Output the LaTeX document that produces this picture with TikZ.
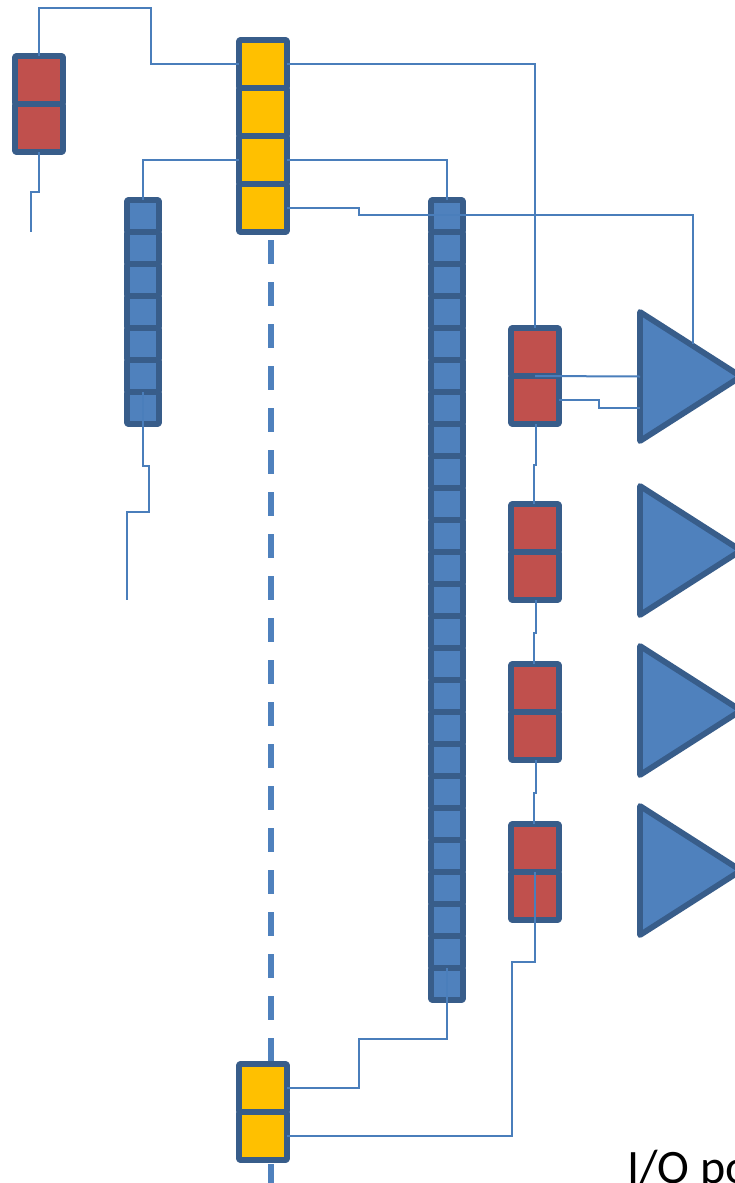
\documentclass[tikz,border=0pt]{standalone}
\usepackage{fontspec}
\setmainfont{Carlito}
\usetikzlibrary{shapes.geometric}
\definecolor{edgeblue}{HTML}{385D8A}
\definecolor{fillblue}{HTML}{4F81BD}
\definecolor{fillred}{HTML}{C0504D}
\definecolor{fillyellow}{HTML}{FFC000}
\definecolor{wire}{HTML}{4A7EBB}
\tikzset{
  cell/.style={draw=edgeblue,line width=5.8pt,rounded corners=1pt,line join=round,outer sep=0pt,inner sep=0pt,minimum width=48pt,minimum height=48pt},
  redcell/.style={cell,fill=fillred},
  yellowcell/.style={cell,fill=fillyellow},
  bluecell/.style={cell,fill=fillblue,minimum width=32pt,minimum height=32pt},
  amp/.style={draw=edgeblue,fill=fillblue,line width=5.8pt,line join=round,outer sep=0pt,inner sep=0pt,
    isosceles triangle,isosceles triangle stretches,minimum width=129pt,minimum height=101pt,anchor=lower side},
  conn/.style={draw=wire,line width=2pt,line join=miter},
  bus/.style={draw=fillblue,line width=6pt,dash pattern=on 24pt off 18pt},
  label/.style={font=\fontsize{48}{58}\selectfont,inner sep=0pt,anchor=base west}
}
\begin{document}
\begin{tikzpicture}[x=1pt,y=-1pt]
\useasboundingbox (0,0) rectangle (735,1183);
\coordinate (busTop) at (271,240);
\coordinate (busEnd) at (271,1183);
\draw[bus] (busTop) -- (busEnd);
% top-left red register
\node[redcell] (ra) at (39,80) {};
\node[redcell] (rb) at (39,128) {};
% yellow registers
\foreach \i/\y in {1/64,2/112,3/160,4/208}{\node[yellowcell] (y\i) at (263,\y) {};}
\node[yellowcell] (ya) at (263,1088) {};
\node[yellowcell] (yb) at (263,1136) {};
% short blue column
\foreach \i in {1,...,7}{\node[bluecell] (s\i) at (143,{184+32*\i}) {};}
% tall blue column
\foreach \i in {1,...,25}{\node[bluecell] (t\i) at (447,{184+32*\i}) {};}
% red pairs
\foreach \n/\y in {1/352,2/528,3/688,4/848}{
  \node[redcell] (p\n a) at (535,\y) {};
  \node[redcell] (p\n b) at (535,\y+48) {};
}
% amplifiers
\foreach \n/\y in {1/376.5,2/550.5,3/710.5,4/870.5}{\node[amp] (amp\n) at (640,\y) {};}
% free ends and routing points
\coordinate (endA) at (31,232);
\coordinate (endB) at (127,600);
\coordinate (bendA) at (693,215);
\coordinate (bendB) at (599,408);
% connectors
\draw[conn] (ra.north) -- (39,8) -- (151,8) -- (151,64) -- (y1.west);
\draw[conn] (rb.south) -- (39,192) -- (31,192) -- (endA);
\draw[conn] (y3.west) -- (143,160) -- (s1.north);
\draw[conn] (y1.east) -- (535,64) -- (p1a.north);
\draw[conn] (y3.east) -- (447,160) -- (t1.north);
\draw[conn] (y4.east) -- (359,208) -- (359,215) -- (bendA) -- (bendA |- amp1.left side);
\draw[conn] (p1b.north) -- (amp1.lower side);
\draw[conn] (p1b.east) -- (599,400) -- (bendB) -- (amp1.lower side |- bendB);
\draw[conn] (536,424) -- (536,465) -- (534,465) -- (534,504);
\draw[conn] (536,600) -- (536,633) -- (534,633) -- (534,664);
\draw[conn] (536,760) -- (536,793) -- (534,793) -- (534,824);
\draw[conn] (p4b.north) -- (535,962) -- (512,962) -- (512,1136) -- (yb.east);
\draw[conn] (t25.north) -- (447,1039) -- (359,1039) -- (359,1088) -- (ya.east);
\draw[conn] (s7.north) -- (143,466) -- (149,466) -- (149,512) -- (127,512) -- (endB);
\node[label] (io) at (627,1183) {I/O po};
\end{tikzpicture}
\end{document}
